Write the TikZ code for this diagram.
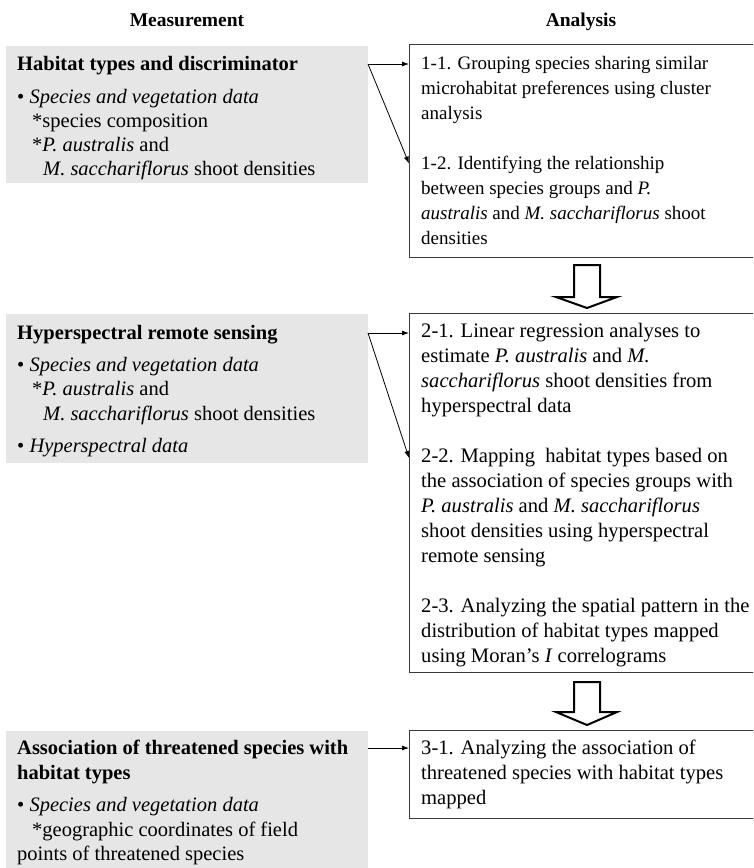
\documentclass[tikz,border=0pt]{standalone}
\usepackage{fontspec}
\setmainfont{Liberation Serif}
\usetikzlibrary{arrows.meta}
\definecolor{grayfill}{HTML}{E6E6E6}
\definecolor{boxline}{HTML}{3A3A3A}
\tikzset{
  graybox/.style={fill=grayfill, draw=none, inner sep=0pt, anchor=north west},
  anabox/.style={draw=boxline, line width=1.4pt, fill=white, inner sep=0pt, anchor=north west},
  txt/.style={font=\fontsize{19}{25}\selectfont, align=left, inner sep=0pt, anchor=north west},
  btxt/.style={font=\fontsize{20.6}{25}\selectfont, align=left, inner sep=0pt, anchor=north west},
  gtxt/.style={font=\fontsize{20.5}{24.3}\selectfont, align=left, inner sep=0pt, anchor=north west},
  head/.style={font=\fontsize{19.5}{24}\selectfont\bfseries, inner sep=0pt, anchor=base},
  arr/.style={-{Latex[length=7pt,width=5pt]}, line width=0.8pt, black},
  hollow/.style={draw=black, line width=2pt, fill=white, line join=miter},
}
\begin{document}
\begin{tikzpicture}[x=1pt,y=-1pt]
\useasboundingbox (0,0) rectangle (753,868);
\clip (0,0) rectangle (753,868);
% headers
\node[head] (hm) at (187,26) {Measurement};
\node[head] (ha) at (581,26) {Analysis};
% gray boxes
\node[graybox, minimum width=362pt, minimum height=137pt] (g1) at (6,46) {};
\node[graybox, minimum width=362pt, minimum height=149pt] (g2) at (6,314) {};
\node[graybox, minimum width=362pt, minimum height=140pt] (g3) at (6,731) {};
% analysis boxes
\node[anabox, minimum width=360pt, minimum height=213pt] (b1) at (409,44) {};
\node[anabox, minimum width=360pt, minimum height=359pt] (b2) at (409,313) {};
\node[anabox, minimum width=360pt, minimum height=88pt] (b3) at (409,730) {};
% gray texts
\node[gtxt] (t1) at (17,53) {\strut\textbf{Habitat types and discriminator}\\[8.5pt]
• \textit{Species and vegetation data}\\
\hspace*{15pt}*species composition\\
\hspace*{15pt}*\textit{P. australis} and\\
\hspace*{26pt}\textit{M. sacchariflorus} shoot densities};
\node[gtxt] (t2) at (17,322) {\strut\textbf{Hyperspectral remote sensing}\\[8pt]
• \textit{Species and vegetation data}\\
\hspace*{15pt}*\textit{P. australis} and\\
\hspace*{26pt}\textit{M. sacchariflorus} shoot densities\\[8.5pt]
• \textit{Hyperspectral data}};
\node[gtxt] (t3) at (17,737.5) {\strut\textbf{Association of threatened species with}\\
\textbf{habitat types}\\[8.5pt]
• \textit{Species and vegetation data}\\
\hspace*{15pt}*geographic coordinates of field\\
points of threatened species};
% analysis texts
\node[txt] (s1) at (421,52) {\strut 1-1. Grouping species sharing similar\\
microhabitat preferences using cluster\\
analysis\\[25pt]
1-2. Identifying the relationship\\
between species groups and \textit{P.}\\
\textit{australis} and \textit{M. sacchariflorus} shoot\\
densities};
\node[btxt] (s2) at (421,319.5) {\strut 2-1. Linear regression analyses to\\
estimate \textit{P. australis} and \textit{M.}\\
\textit{sacchariflorus} shoot densities from\\
hyperspectral data\\[25pt]
2-2. Mapping\ \ habitat types based on\\
the association of species groups with\\
\textit{P. australis} and \textit{M. sacchariflorus}\\
shoot densities using hyperspectral\\
remote sensing\\[25pt]
2-3. Analyzing the spatial pattern in the\\
distribution of habitat types mapped\\
using Moran’s \textit{I} correlograms};
\node[btxt] (s3) at (421,736.5) {\strut 3-1. Analyzing the association of\\
threatened species with habitat types\\
mapped};
% connector anchor points
\coordinate (c1) at (368,64);
\coordinate (c1b) at (409,163.5);
\coordinate (c2) at (368,333);
\coordinate (c2b) at (409,458);
\coordinate (c3) at (368,748);
\draw[arr] (c1) -- (b1.west |- c1);
\draw[arr] (c1) -- (c1b);
\draw[arr] (c2) -- (b2.west |- c2);
\draw[arr] (c2) -- (c2b);
\draw[arr] (c3) -- (b3.west |- c3);
% hollow arrows
\draw[hollow] (574,265) -- (600,265) -- (600,297) -- (617,297) -- (587,308) -- (556,297) -- (574,297) -- cycle;
\draw[hollow] (574,682) -- (600,682) -- (600,712) -- (617,712) -- (587,725) -- (556,712) -- (574,712) -- cycle;
\end{tikzpicture}
\end{document}
